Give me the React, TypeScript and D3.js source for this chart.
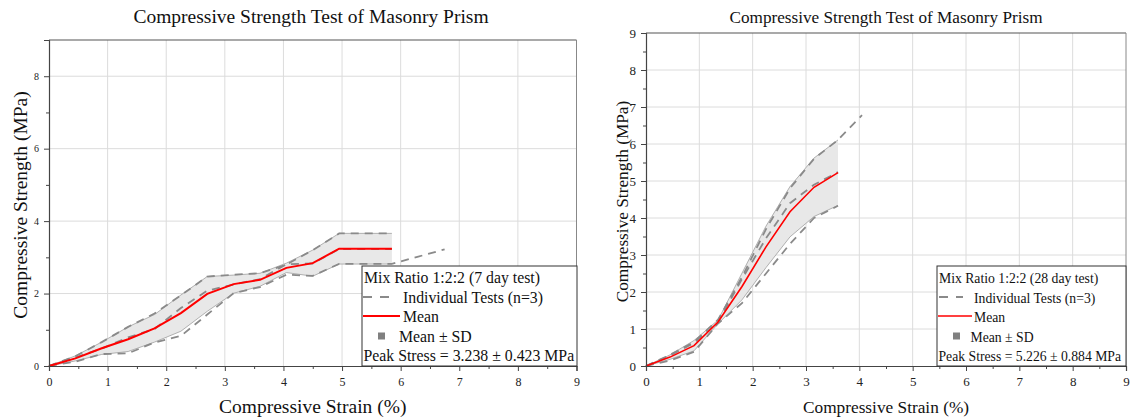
import React, { useEffect, useRef } from 'react';
import * as d3 from 'd3';

const FONT = '"Liberation Serif", "Times New Roman", serif';

// 7 day test (strain %, stress MPa)
const strain7 = [0, 0.45, 0.9, 1.35, 1.8, 2.25, 2.7, 3.15, 3.6, 4.05, 4.5, 4.95, 5.4, 5.85];
const strain7Long = [0, 0.45, 0.9, 1.35, 1.8, 2.25, 2.7, 3.15, 3.6, 4.05, 4.5, 4.95, 5.4, 5.85, 6.3, 6.75];
const test7A = [0, 0.27, 0.66, 1.08, 1.45, 1.95, 2.47, 2.52, 2.56, 2.8, 3.2, 3.66, 3.66, 3.66];
const test7B = [0, 0.24, 0.48, 0.79, 1.02, 1.6, 2.08, 2.25, 2.4, 2.81, 2.83, 3.23, 3.23, 3.23];
const test7C = [0, 0.12, 0.33, 0.35, 0.65, 0.83, 1.42, 2.01, 2.18, 2.52, 2.49, 2.82, 2.82, 2.82, 3.02, 3.22];
const mean7 = [0, 0.21, 0.49, 0.74, 1.04, 1.46, 1.99, 2.26, 2.38, 2.71, 2.84, 3.238, 3.238, 3.238];
const sd7 = [0, 0.07, 0.17, 0.34, 0.38, 0.5, 0.48, 0.25, 0.18, 0.13, 0.36, 0.423, 0.423, 0.423];

// 28 day test
const strain28 = [0, 0.45, 0.9, 1.35, 1.8, 2.25, 2.7, 3.15, 3.6];
const strain28Long = [0, 0.45, 0.9, 1.35, 1.8, 2.25, 2.7, 3.15, 3.6, 4.05];
const test28A = [0, 0.3, 0.65, 1.25, 2.4, 3.7, 4.8, 5.6, 6.11, 6.78];
const test28B = [0, 0.28, 0.62, 1.18, 2.35, 3.45, 4.4, 4.9, 5.24];
const test28C = [0, 0.15, 0.38, 1.15, 1.7, 2.5, 3.3, 4.0, 4.33];
const mean28 = [0, 0.24, 0.55, 1.19, 2.15, 3.22, 4.17, 4.83, 5.226];
const sd28 = [0, 0.06, 0.14, 0.05, 0.36, 0.56, 0.68, 0.79, 0.884];

const xMajor = [0, 1, 2, 3, 4, 5, 6, 7, 8, 9];
const xMinor = [0.5, 1.5, 2.5, 3.5, 4.5, 5.5, 6.5, 7.5, 8.5];

const title = 'Compressive Strength Test of Masonry Prism';
const xTitle = 'Compressive Strain (%)';
const yTitle = 'Compressive Strength (MPa)';

const panels = [
  {
    left: 49, right: 576.5, top: 40, bottom: 366,
    yMajor: [0, 2, 4, 6, 8], yMinor: [1, 3, 5, 7], yGrid: [2, 4, 6, 8],
    yTickFont: 10, xTickFont: 12, titleFont: 19.5, axisFont: 19.5,
    titleX: 311, yTitleX: 27,
    strain: strain7, tests: [
      { s: strain7, v: test7A }, { s: strain7, v: test7B }, { s: strain7Long, v: test7C },
    ],
    mean: mean7, sd: sd7, redWidth: 2,
    legend: {
      x0: 362, x1: 577, y0: 266, font: 15.8,
      lines: ['Mix Ratio 1:2:2 (7 day test)', 'Individual Tests (n=3)', 'Mean', 'Mean \u00b1 SD', 'Peak Stress = 3.238 \u00b1 0.423 MPa'],
      dash: [363, 392], dashText: 403, red: [363, 400], redText: 403, sq: 381.5, sqText: 399,
    },
  },
  {
    left: 646, right: 1126, top: 33, bottom: 366,
    yMajor: [0, 1, 2, 3, 4, 5, 6, 7, 8, 9], yMinor: [0.5, 1.5, 2.5, 3.5, 4.5, 5.5, 6.5, 7.5, 8.5],
    yGrid: [1, 2, 3, 4, 5, 6, 7, 8],
    yTickFont: 13, xTickFont: 13, titleFont: 17.2, axisFont: 17.3,
    titleX: 886, yTitleX: 628,
    strain: strain28, tests: [
      { s: strain28Long, v: test28A }, { s: strain28, v: test28B }, { s: strain28, v: test28C },
    ],
    mean: mean28, sd: sd28, redWidth: 1.6,
    legend: {
      x0: 937, x1: 1126, y0: 266, font: 13.7,
      lines: ['Mix Ratio 1:2:2 (28 day test)', 'Individual Tests (n=3)', 'Mean', 'Mean \u00b1 SD', 'Peak Stress = 5.226 \u00b1 0.884 MPa'],
      dash: [939, 963], dashText: 974, red: [938, 972], redText: 974, sq: 956.5, sqText: 970.5,
    },
  },
];

function drawPanel(root, p) {
  const g = root.append('g');
  const x = d3.scaleLinear().domain([0, 9]).range([p.left, p.right]);
  const y = d3.scaleLinear().domain([0, 9]).range([p.bottom, p.top]);

  // grid
  g.append('g').selectAll('line').data(xMajor.slice(1, -1)).join('line')
    .attr('x1', d => x(d)).attr('x2', d => x(d))
    .attr('y1', y(0)).attr('y2', y(9))
    .attr('stroke', '#dcdcdc').attr('stroke-width', 1);
  g.append('g').selectAll('line').data(p.yGrid).join('line')
    .attr('x1', x(0)).attr('x2', x(9))
    .attr('y1', d => y(d)).attr('y2', d => y(d))
    .attr('stroke', '#dcdcdc').attr('stroke-width', 1);

  // SD band
  const idx = p.strain.map((_, i) => i);
  const band = d3.area()
    .x(i => x(p.strain[i]))
    .y0(i => y(p.mean[i] - p.sd[i]))
    .y1(i => y(p.mean[i] + p.sd[i]));
  g.append('path').attr('d', band(idx)).attr('fill', '#e8e8e8').attr('stroke', 'none');
  const upper = d3.line().x(i => x(p.strain[i])).y(i => y(p.mean[i] + p.sd[i]));
  const lower = d3.line().x(i => x(p.strain[i])).y(i => y(p.mean[i] - p.sd[i]));
  [upper, lower].forEach(l => g.append('path').attr('d', l(idx))
    .attr('fill', 'none').attr('stroke', '#a8a8a8').attr('stroke-width', 0.9));

  // individual tests
  p.tests.forEach(t => {
    const line = d3.line().x((_, i) => x(t.s[i])).y(d => y(d));
    g.append('path').attr('d', line(t.v))
      .attr('fill', 'none').attr('stroke', '#8a8a8a').attr('stroke-width', 1.8)
      .attr('stroke-dasharray', '8,6');
  });

  // mean
  const meanLine = d3.line().x((_, i) => x(p.strain[i])).y(d => y(d));
  g.append('path').attr('d', meanLine(p.mean))
    .attr('fill', 'none').attr('stroke', '#ff0000').attr('stroke-width', p.redWidth);

  // axes
  const xAxis = g.append('g').attr('transform', `translate(0,${p.bottom})`)
    .call(d3.axisBottom(x).tickValues(xMajor).tickFormat(d3.format('d')).tickSize(5).tickPadding(6));
  g.append('g').attr('transform', `translate(0,${p.bottom})`)
    .call(d3.axisBottom(x).tickValues(xMinor).tickFormat(() => '').tickSize(3))
    .call(a => a.select('.domain').remove());
  const yAxis = g.append('g').attr('transform', `translate(${p.left},0)`)
    .call(d3.axisLeft(y).tickValues(p.yMajor).tickFormat(d3.format('d')).tickSize(5).tickPadding(5));
  g.append('g').attr('transform', `translate(${p.left},0)`)
    .call(d3.axisLeft(y).tickValues(p.yMinor).tickFormat(() => '').tickSize(3))
    .call(a => a.select('.domain').remove());
  g.selectAll('.domain').attr('stroke', '#444').attr('stroke-width', 1.2);
  g.selectAll('.tick line').attr('stroke', '#444');
  xAxis.selectAll('text').attr('font-family', FONT).attr('font-size', p.xTickFont).attr('fill', '#222');
  yAxis.selectAll('text').attr('font-family', FONT).attr('font-size', p.yTickFont).attr('fill', '#222');

  // frame
  g.append('line').attr('x1', p.left).attr('x2', p.right).attr('y1', p.top).attr('y2', p.top)
    .attr('stroke', '#555').attr('stroke-width', 1.2);
  g.append('line').attr('x1', p.right).attr('x2', p.right).attr('y1', p.top).attr('y2', p.bottom)
    .attr('stroke', '#888').attr('stroke-width', 1);

  // titles
  g.append('text').attr('x', p.titleX).attr('y', 23).attr('text-anchor', 'middle')
    .attr('font-family', FONT).attr('font-size', p.titleFont).attr('fill', '#111').text(title);
  g.append('text').attr('x', (p.left + p.right) / 2).attr('y', 413).attr('text-anchor', 'middle')
    .attr('font-family', FONT).attr('font-size', p.axisFont).attr('fill', '#111').text(xTitle);
  g.append('text').attr('transform', `translate(${p.yTitleX},${(p.top + p.bottom) / 2 + 2}) rotate(-90)`)
    .attr('text-anchor', 'middle')
    .attr('font-family', FONT).attr('font-size', p.axisFont).attr('fill', '#111').text(yTitle);

  // legend
  const L = p.legend;
  const lg = g.append('g');
  lg.append('rect').attr('x', L.x0).attr('y', L.y0).attr('width', L.x1 - L.x0).attr('height', p.bottom - L.y0)
    .attr('fill', '#fff').attr('stroke', '#333').attr('stroke-width', 1);
  const base = [283, 303, 321.5, 341.5, 361];
  const textX = [L.x0 + 2, L.dashText, L.redText, L.sqText, L.x0 + 1.5];
  L.lines.forEach((t, i) => {
    lg.append('text').attr('x', textX[i]).attr('y', base[i])
      .attr('font-family', FONT).attr('font-size', L.font).attr('fill', '#111').text(t);
  });
  lg.append('line').attr('x1', L.dash[0]).attr('x2', L.dash[1]).attr('y1', 297).attr('y2', 297)
    .attr('stroke', '#8a8a8a').attr('stroke-width', 1.8).attr('stroke-dasharray', '9,8');
  lg.append('line').attr('x1', L.red[0]).attr('x2', L.red[1]).attr('y1', 316).attr('y2', 316)
    .attr('stroke', '#ff0000').attr('stroke-width', p.redWidth);
  lg.append('rect').attr('x', L.sq - 3.5).attr('y', 332.5).attr('width', 7).attr('height', 7)
    .attr('fill', '#808080');
}

export default function App() {
  const svgRef = useRef(null);

  useEffect(() => {
    const svg = d3.select(svgRef.current);
    svg.selectAll('*').remove();
    svg.append('rect').attr('width', 1134).attr('height', 418).attr('fill', '#fff');
    panels.forEach(p => drawPanel(svg, p));
  }, []);

  return (
    <svg ref={svgRef} width={1134} height={418}
      style={{ position: 'absolute', left: 0, top: 0, display: 'block' }} />
  );
}
